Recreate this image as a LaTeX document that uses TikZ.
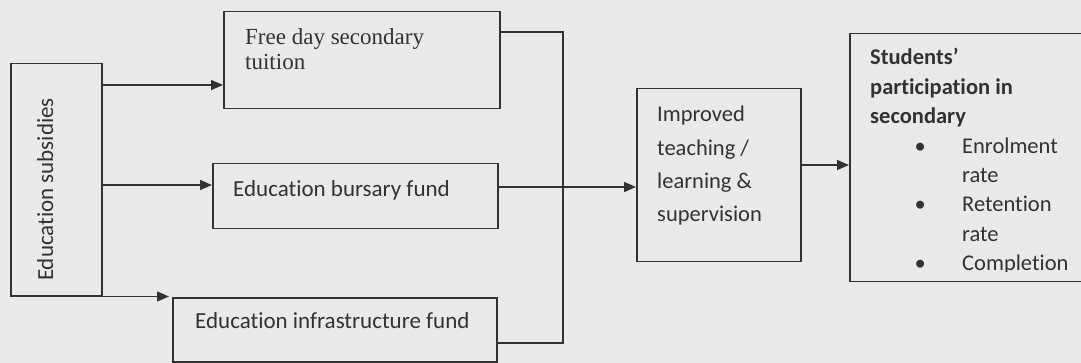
\documentclass[tikz,border=0pt]{standalone}
\usepackage{fontspec}
\setmainfont{Carlito}[Ligatures=NoCommon]
\newfontfamily\serifface{Liberation Serif}
\usetikzlibrary{arrows.meta}
\newcommand\mlines[1]{\begin{tabular}[t]{@{}l@{}}#1\end{tabular}}
\definecolor{bg}{RGB}{233,233,233}
\definecolor{ink}{RGB}{50,50,50}
\begin{document}
\begin{tikzpicture}[x=1pt,y=-1pt,
  box/.style={draw=ink,line width=1.5pt,rectangle,inner sep=0pt,anchor=north west},
  lbl/.style={text=ink,inner sep=0pt,anchor=base west,align=left},
  conn/.style={draw=ink,line width=1.5pt},
  arr/.style={conn,-{Triangle[length=12pt,width=10pt]}}]
\clip (0,0) rectangle (1081,363);
\useasboundingbox (0,0) rectangle (1081,363);
\fill[bg] (0,0) rectangle (1081,363);
% boxes
\node[box,minimum width=91pt,minimum height=232pt] (sub) at (10,63) {};
\node[box,minimum width=276pt,minimum height=97pt] (free) at (223,11) {};
\node[box,minimum width=285pt,minimum height=65pt] (burs) at (212,163) {};
\node[box,minimum width=324pt,minimum height=64pt] (infra) at (172,297) {};
\node[box,minimum width=164pt,minimum height=173pt] (impr) at (636,88) {};
\node[box,minimum width=260pt,minimum height=248pt] (stud) at (849,33) {};
% texts
\node[text=ink,inner sep=0pt,anchor=base,rotate=90,font=\fontsize{23}{28}\selectfont] (tsub) at (53,189.5) {Education subsidies};
\node[lbl,font=\serifface\fontsize{23}{25}\selectfont] (tfree) at (245,45) {\mlines{Free day secondary\\tuition}};
\node[lbl,font=\fontsize{23}{28}\selectfont] (tburs) at (233,197) {Education bursary fund};
\node[lbl,font=\fontsize{23}{28}\selectfont] (tinfra) at (195,328) {Education infrastructure fund};
\node[lbl,font=\fontsize{22.5}{33.3}\selectfont] (timpr) at (657,122) {\mlines{Improved\\teaching /\\learning \&\\supervision}};
\begin{scope}
\clip (850,34) rectangle (1090,272);
\node[lbl,font=\fontsize{22.5}{29.4}\selectfont] (tstud) at (870,65) {\mlines{\textbf{Students’}\\\textbf{participation in}\\\textbf{secondary}\\
\hspace*{50pt}\makebox[0pt]{•}\hspace*{42pt}Enrolment\\
\hspace*{92pt}rate\\
\hspace*{50pt}\makebox[0pt]{•}\hspace*{42pt}Retention\\
\hspace*{92pt}rate\\
\hspace*{50pt}\makebox[0pt]{•}\hspace*{42pt}Completion}};
\end{scope}
% connectors
\coordinate (a3) at (169,295);
\coordinate (j1) at (563,32);
\draw[arr] (sub.east |- 0,85) -- (free.west |- 0,85);
\draw[arr] (sub.east |- 0,185) -- (burs.west |- 0,185);
\draw[arr] (sub.south east) -- (a3 |- sub.south east);
\draw[conn] (free.east |- j1) -- (j1) |- (infra.east |- 0,343);
\draw[arr] (burs.east |- 0,187) -- (impr.west |- 0,187);
\draw[arr] (impr.east |- 0,165) -- (stud.west |- 0,165);
\end{tikzpicture}
\end{document}
